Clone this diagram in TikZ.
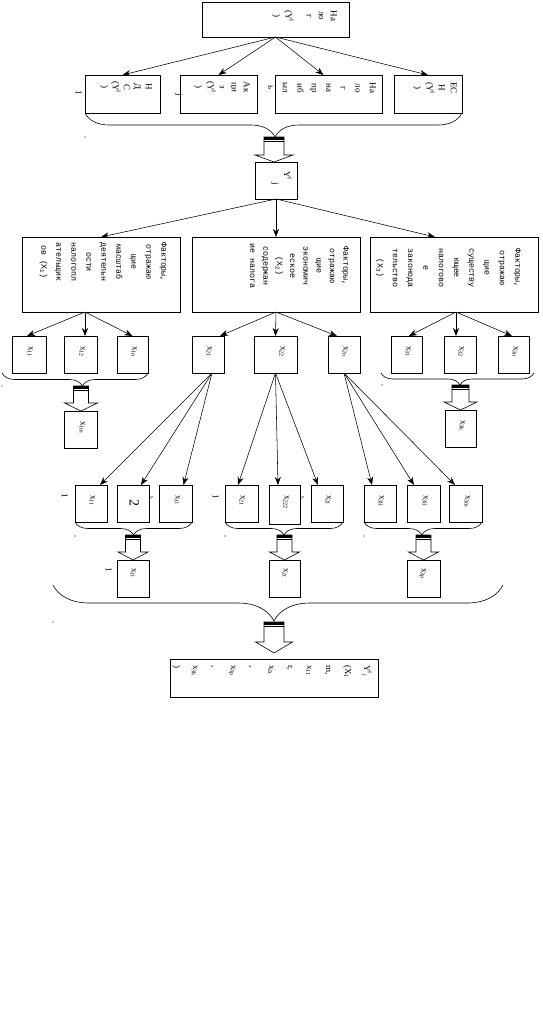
\documentclass[tikz,border=0pt]{standalone}
\usepackage{fontspec}
\setmainfont{Liberation Serif}
\newfontfamily\monof{Liberation Mono}
\usetikzlibrary{arrows.meta,calc,decorations.pathreplacing}
\newcommand{\mkbox}[5]{\node[box, minimum width={(#4-#2)*1pt}, minimum height={(#5-#3)*1pt}] (#1) at ({(#2+#4)/2},{(#3+#5)/2}) {};}
\newcommand{\hollowarrow}[6]{%
  \draw[line width=0.6pt, fill=white] ({#1-#3},#2) -- ({#1+#3},#2) -- ({#1+#3},#5) -- ({#1+#4},#5) -- (#1,#6) -- ({#1-#4},#5) -- ({#1-#3},#5) -- cycle;
  \fill ({#1-#3},#2) rectangle ({#1+#3},{#2+2.6});
  \draw[line width=1.2pt] ({#1-#3},{#2+4.4}) -- ({#1+#3},{#2+4.4});
}
\tikzset{
  box/.style={draw, line width=0.6pt, inner sep=0pt, outer sep=0pt, fill=white},
  rt/.style={rotate=-90, anchor=north, align=center, inner sep=0pt, font=\fontsize{9}{12}\selectfont},
  rtl/.style={rotate=-90, anchor=north west, align=left, inner sep=0pt, font=\fontsize{9}{12}\selectfont},
  bigtext/.style={rt, font=\monof\fontsize{8.3}{#1}\selectfont},
  conn/.style={line width=0.55pt, -{Stealth[length=8pt,width=6pt,inset=2.5pt]}},
  curly/.style 2 args={line width=0.6pt, decorate, decoration={brace, mirror, amplitude=#1, aspect=#2}},
  speck/.style={fill=black}
}
\begin{document}
\begin{tikzpicture}[x=1pt,y=-1pt]
\useasboundingbox (0,0) rectangle (542,1029);
% ---- boxes
\mkbox{top}{202}{2}{349}{37}
\mkbox{r1}{85}{75}{160}{113}
\mkbox{r2}{180}{75}{257}{113}
\mkbox{r3}{275}{75}{382}{113}
\mkbox{r4}{394}{75}{462}{113}
\mkbox{yj}{255}{162}{297}{199}
\mkbox{bl}{22}{237}{180}{312}
\mkbox{bc}{192}{237}{360}{312}
\mkbox{br}{370}{237}{538}{312}
\mkbox{s11}{12}{336}{46}{373}
\mkbox{s12}{64}{336}{97}{373}
\mkbox{s1n}{117}{336}{148}{373}
\mkbox{s21}{192}{336}{224}{373}
\mkbox{s22}{254}{336}{297}{373}
\mkbox{s2n}{328}{336}{360}{373}
\mkbox{s31}{391}{336}{422}{373}
\mkbox{s32}{444}{336}{476}{373}
\mkbox{s3n}{498}{336}{529}{373}
\mkbox{s1m}{64}{411}{97}{448}
\mkbox{s3k}{445}{410}{476}{447}
\mkbox{a1}{75}{485}{107}{522}
\mkbox{a2}{117}{485}{149}{522}
\mkbox{a3}{159}{485}{192}{522}
\mkbox{b1}{225}{485}{258}{522}
\mkbox{b2}{269}{485}{300}{524}
\mkbox{b3}{311}{485}{343}{522}
\mkbox{c1}{364}{485}{396}{522}
\mkbox{c2}{407}{485}{440}{522}
\mkbox{c3}{449}{485}{482}{522}
\mkbox{d1}{117}{560}{149}{597}
\mkbox{d2}{269}{560}{300}{597}
\mkbox{d3}{407}{560}{440}{597}
\mkbox{fin}{170}{659}{378}{697}
% ---- texts
\node[rt] (ttop) at (337,16) {На\\ло\\г\\[9pt](Y\textsuperscript{I}\\)};
\node[rt, font=\fontsize{9}{11}\selectfont] (tr1) at (152,87) {Н\\Д\\С\\(Y\textsuperscript{I}\\)};
\node[rt] (tr2) at (250,87) {Ак\\ци\\з\\(Y\textsuperscript{I}\\)};
\node[rt, font=\fontsize{9}{14.5}\selectfont] (tr3) at (376,88) {На\\ло\\г\\на\\пр\\иб\\ыл\\ь};
\node[rt] (tr4) at (457,88) {ЕС\\Н\\(Y\textsuperscript{I}\\)};
\node[rt] (st1) at (82,93) {1};
\node[rt] (st2) at (183,95) {j};
\node[rtl, font=\fontsize{9}{11}\selectfont] (tyj) at (292,171) {Y\textsuperscript{I}\\\hspace*{11pt}j};
\node[bigtext=15] (tbl) at (167,262) {Факторы,\\отражаю\\щие\\масштаб\\деятельн\\ости\\налогопл\\ательщик\\ов (X\textsubscript{1})};
\node[bigtext=13.3] (tbc) at (349,266) {Факторы,\\отражаю\\щие\\экономич\\еское\\(X\textsubscript{2})\\содержан\\ие налога};
\node[bigtext=15.3] (tbr) at (521,268) {Факторы,\\отражаю\\щие\\существу\\ющее\\налогово\\е\\законода\\тельство\\(X\textsubscript{3})};
\node[rtl] (ts11) at (33,346) {x\textsubscript{11}};
\node[rtl] (ts12) at (85,346) {x\textsubscript{12}};
\node[rtl] (ts1n) at (137,346) {x\textsubscript{1n}};
\node[rtl] (ts21) at (212,346) {x\textsubscript{21}};
\node[rtl] (ts22) at (285,346) {x\textsubscript{22}};
\node[rtl] (ts2n) at (348,346) {x\textsubscript{2n}};
\node[rtl] (ts31) at (411,346) {x\textsubscript{31}};
\node[rtl] (ts32) at (464,346) {x\textsubscript{32}};
\node[rtl] (ts3n) at (518,346) {x\textsubscript{3n}};
\node[rtl] (ts1m) at (85,421) {x\textsubscript{1m}};
\node[rtl] (ts3k) at (465,420) {x\textsubscript{3k}};
\node[rtl] (ta1) at (95,495) {x\textsubscript{11}};
\node[rt, font=\fontsize{14}{14}\selectfont] (ta2) at (139,503) {2};
\node[rtl] (ta3) at (180,495) {x\textsubscript{1l}};
\node[rtl] (tb1) at (245,495) {x\textsubscript{21}};
\node[rtl] (tb2) at (289,495) {x\textsubscript{222}};
\node[rtl] (tb3) at (331,495) {x\textsubscript{2l}};
\node[rtl] (tc1) at (384,495) {x\textsubscript{3ll}};
\node[rtl] (tc2) at (428,495) {x\textsubscript{3ll}};
\node[rtl] (tc3) at (470,495) {x\textsubscript{3m}};
\node[rt] (sa1) at (68,496) {1};
\node[rt, font=\fontsize{5}{5}\selectfont] (sa2) at (153,498) {ъ};
\node[rt] (sb1) at (219,497) {1};
\node[rt, font=\fontsize{5}{5}\selectfont] (sb2) at (304,498) {ъ};
\node[rtl] (td1) at (136,568) {x\textsubscript{1l}};
\node[rtl] (td2) at (288,568) {x\textsubscript{2t}};
\node[rtl] (td3) at (426,568) {x\textsubscript{3p}};
\node[rt] (sd1) at (112,570) {1};
\node[rtl, font=\fontsize{9}{19}\selectfont] (tfin) at (372,665) {Y\textsuperscript{I}\textsubscript{j}\\(X\textsubscript{1}\\m,\\x\textsubscript{11}\\r,\\x\textsubscript{2t}\\,\\x\textsubscript{3p}\\,\\x\textsubscript{3k}\\)};
% ---- arrows
\draw[conn] (top.south) -- (r1.north);
\draw[conn] (top.south) -- (r2.north);
\draw[conn] (top.south) -- ($(r3.north)+(-5,0)$);
\draw[conn] (top.south) -- (r4.north);
\draw[conn] (yj.south) -- (bl.north);
\draw[conn] (yj.south) -- (bc.north);
\draw[conn] (yj.south) -- ($(br.north)+(-19,0)$);
\coordinate (blo) at ($(bl.south west)+(63,0)$);
\draw[conn] (blo) -- ($(s11.north)+(-2,0)$);
\draw[conn] (blo) -- ($(s12.north)+(4.5,0)$);
\draw[conn] (blo) -- (s1n.north);
\draw[conn] (bc.south) -- ($(s21.north)+(12,0)$);
\draw[conn] (bc.south) -- (s22.north);
\draw[conn] (bc.south) -- ($(s2n.north)+(-7,0)$);
\coordinate (bro) at ($(br.south)+(2,0)$);
\draw[conn] (bro) -- ($(s31.north)+(2.5,0)$);
\draw[conn] (bro) -- ($(s32.north)+(-4,0)$);
\draw[conn] (bro) -- ($(s3n.north)+(-1.5,0)$);
\coordinate (s21o) at ($(s21.south)+(4,0)$);
\draw[conn] (s21o) -- ($(a1.north)+(9,0)$);
\draw[conn] (s21o) -- ($(a2.north)+(8,0)$);
\draw[conn] (s21o) -- ($(a3.north)+(8,0)$);
\draw[conn] (s22.south) -- ($(b1.north)+(-3.5,0)$);
\draw[conn] (s22.south) -- ($(b2.north)+(-6.5,0)$);
\draw[conn] (s22.south) -- ($(b3.north)+(-9,0)$);
\draw[conn] (s2n.south) -- ($(c1.north)+(-8,0)$);
\draw[conn] (s2n.south) -- ($(c2.north)+(-9.5,0)$);
\draw[conn] (s2n.south) -- ($(c3.north)+(-10.5,0)$);
% ---- braces
\draw[curly={24pt}{0.504}] (r1.south west) -- (r4.south east);
\draw[curly={13pt}{0.55}] ($(s11.south west)+(-10,0)$) -- (s1n.south east);
\draw[curly={12pt}{0.516}] ($(s31.south west)+(-10,0)$) -- ($(s3n.south east)+(5,0)$);
\draw[curly={13pt}{0.5}] (a1.south west) -- (a3.south east);
\draw[curly={13pt}{0.5}] (b1.south west) -- (b3.south east);
\draw[curly={13pt}{0.49}] (c1.south west) -- (c3.south east);
\coordinate (bigL) at (53,585);
\coordinate (bigR) at (503,585);
\draw[curly={36pt}{0.491}] (bigL) -- (bigR);
% ---- hollow arrows
\hollowarrow{274}{137}{10}{19}{155}{162}
\hollowarrow{81}{386}{7.5}{16.5}{403}{411}
\hollowarrow{460.5}{385}{8.5}{16.5}{402}{410}
\hollowarrow{133}{535}{7.5}{15}{552}{560}
\hollowarrow{284.5}{535}{7.5}{15}{552}{560}
\hollowarrow{423.5}{535}{7.5}{15}{552}{560}
\hollowarrow{274}{622}{10}{18.5}{642}{653}
% ---- specks
\fill[speck] (85,137) circle (0.6pt);
\fill[speck] (2,386) circle (0.6pt);
\fill[speck] (382,385) circle (0.6pt);
\fill[speck] (75,536) circle (0.6pt);
\fill[speck] (225,536) circle (0.6pt);
\fill[speck] (364,536) circle (0.6pt);
\fill[speck] (53,622) circle (0.6pt);
\end{tikzpicture}
\end{document}
